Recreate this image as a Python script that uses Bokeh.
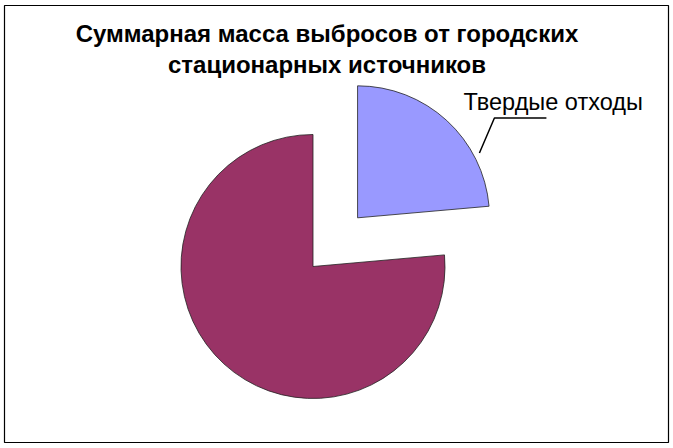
import numpy as np
from bokeh.plotting import figure
from bokeh.models import Range1d, ColumnDataSource
from bokeh.core.properties import value
from bokeh.embed import file_html
from bokeh.resources import INLINE

# data
title_lines = ["Суммарная масса выбросов от городских", "стационарных источников"]
slice_labels = ["Твердые отходы", ""]
shares = [23.6, 76.4]
colors = ["#9999FF", "#993366"]
explode = [66, 0]

W, H = 673, 448
L, T, R, B = 4, 5, 5, 6
# data units = window pixels, y counted upward from the bottom of the window
p = figure(width=W, height=H, x_range=Range1d(L, W - R), y_range=Range1d(B, H - T),
           toolbar_location=None, output_backend="svg",
           x_axis_location=None, y_axis_location=None,
           min_border_left=L, min_border_right=R, min_border_top=T, min_border_bottom=B,
           outline_line_color="black", outline_line_width=1.2)
p.grid.visible = False
p.background_fill_color = "white"
p.border_fill_color = "white"

cx0, cy0, r = 312.5, H - 266.0, 132.0
frac = np.array(shares) / sum(shares)
ends = np.pi / 2 - np.cumsum(frac) * 2 * np.pi
starts = ends + frac * 2 * np.pi
mid = (starts + ends) / 2
cx = cx0 + np.array(explode) * np.cos(mid)
cy = cy0 + np.array(explode) * np.sin(mid)

src = ColumnDataSource(dict(x=cx, y=cy, start=starts, end=ends, color=colors))
p.wedge(x="x", y="y", radius=r, start_angle="start", end_angle="end", direction="clock",
        fill_color="color", line_color="#222222", line_width=0.8, source=src)

# leader line and label for the exploded slice
a = np.deg2rad(28)
x1, y1 = cx[0] + (r + 6) * np.cos(a), cy[0] + (r + 6) * np.sin(a)
x2, y2 = x1 + 15, y1 + 35
p.line([x1, x2, x2 + 52], [y1, y2, y2], line_color="black", line_width=1.5)

dy = 8  # svg text sits a little low, lift it
p.text(x=[463], y=[H - 109.5 + dy], text=[slice_labels[0]], text_font=value("Liberation Sans"),
       text_font_size="23.5px", text_color="black", text_baseline="alphabetic", text_align="left")

p.text(x=[326.5, 326.5], y=[H - 41 + dy, H - 72 + dy], text=title_lines, text_font=value("Liberation Sans"),
       text_font_size="24px", text_font_style="bold", text_color="black",
       text_baseline="alphabetic", text_align="center")

open("out.html", "w").write(file_html(p, INLINE))
